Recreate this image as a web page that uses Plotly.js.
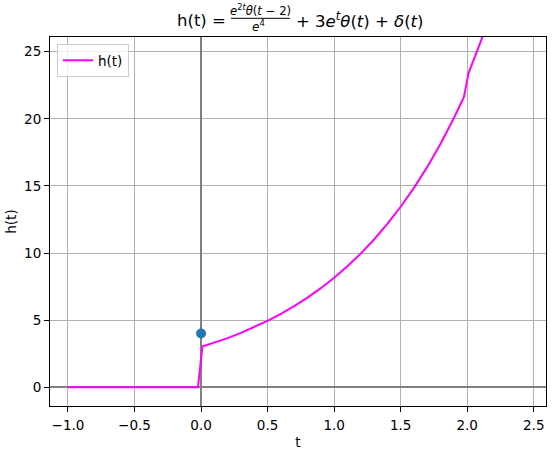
<!DOCTYPE html>
<html>
<head>
<meta charset="utf-8">
<script src="https://cdn.plot.ly/plotly-3.0.1.min.js"></script>
<style>html,body{margin:0;padding:0;background:#fff;}#chart{width:553px;height:450px;}</style>
</head>
<body>
<div id="chart"></div>
<script>
// h(t) curve, values
const tValues = [-1.0, -0.023, 0.01, 0.1, 0.2, 0.3, 0.4, 0.5, 0.6, 0.7, 0.8, 0.9, 1.0, 1.1, 1.2, 1.3, 1.4, 1.5, 1.6, 1.7, 1.8, 1.9, 1.975, 2.01, 2.1, 2.2];
const hValues = [0, 0, 3.03, 3.32, 3.66, 4.05, 4.48, 4.95, 5.47, 6.04, 6.68, 7.38, 8.16, 9.01, 9.96, 11.01, 12.17, 13.45, 14.86, 16.42, 18.15, 20.06, 21.62, 23.41, 25.71, 28.57];
// delta impulse marker
const deltaT = [0];
const deltaH = [4];
// ticks
const xTicks = [-1.0, -0.5, 0.0, 0.5, 1.0, 1.5, 2.0, 2.5];
const yTicks = [0, 5, 10, 15, 20, 25];

const FONT = 'DejaVu Sans, sans-serif';
const L = 50, R = 7, T = 37, B = 44, W = 553, H = 450;
const pw = W - L - R, ph = H - T - B;
const px = x => (x - L) / pw;
const py = y => (H - B - y) / ph;

const traces = [
  {x: tValues, y: hValues, type: 'scatter', mode: 'lines', name: 'h(t)',
   line: {color: '#ff00ff', width: 2}},
  {x: deltaT, y: deltaH, type: 'scatter', mode: 'markers', showlegend: false,
   marker: {color: '#1f77b4', size: 10}}
];

const axisCommon = {
  showline: true, mirror: true, linecolor: '#000', linewidth: 1,
  ticks: 'outside', ticklen: 5, tickcolor: '#000', tickwidth: 1,
  showgrid: true, gridcolor: '#b0b0b0', gridwidth: 1,
  zeroline: true, zerolinecolor: '#808080', zerolinewidth: 2,
  tickfont: {family: FONT, size: 13.5, color: '#000'}
};

const layout = {
  width: W, height: H,
  margin: {l: L, r: R, t: T, b: B},
  paper_bgcolor: '#fff', plot_bgcolor: '#fff',
  font: {family: FONT, color: '#000'},
  showlegend: true,
  legend: {x: px(57), y: py(44), xanchor: 'left', yanchor: 'top',
    bordercolor: '#cccccc', borderwidth: 1, bgcolor: 'rgba(255,255,255,0.8)',
    font: {family: FONT, size: 13.5, color: '#000'}},
  xaxis: Object.assign({}, axisCommon, {
    range: [-1.135, 2.592], tickmode: 'array', tickvals: xTicks,
    ticktext: xTicks.map(v => (v < 0 ? '\u2212' : '') + Math.abs(v).toFixed(1)),
    ticklabelstandoff: 2,
    title: {text: 't', font: {family: FONT, size: 13.5, color: '#000'}, standoff: 5},
    automargin: false
  }),
  yaxis: Object.assign({}, axisCommon, {
    range: [-1.40, 26.1], tickmode: 'array', tickvals: yTicks,
    title: {text: 'h(t)', font: {family: FONT, size: 13.5, color: '#000'}, standoff: 4},
    automargin: false
  }),
  shapes: [
    {type: 'line', xref: 'paper', yref: 'paper', x0: px(231), x1: px(290), y0: py(18.3), y1: py(18.3),
     line: {color: '#000', width: 1}}
  ],
  annotations: [
    {xref: 'paper', yref: 'paper', x: px(228), y: py(21), xanchor: 'right', yanchor: 'middle',
     text: 'h(t) =', showarrow: false, font: {family: FONT, size: 16.5, color: '#000'}},
    {xref: 'paper', yref: 'paper', x: px(260.5), y: py(10), xanchor: 'center', yanchor: 'middle',
     text: '<i>e</i><sup>2<i>t</i></sup><i>θ</i>(<i>t</i> − 2)', showarrow: false,
     font: {family: FONT, size: 11.7, color: '#000'}},
    {xref: 'paper', yref: 'paper', x: px(258), y: py(26.5), xanchor: 'center', yanchor: 'middle',
     text: '<i>e</i><sup>4</sup>', showarrow: false,
     font: {family: FONT, size: 12, color: '#000'}},
    {xref: 'paper', yref: 'paper', x: px(294), y: py(20), xanchor: 'left', yanchor: 'middle',
     text: '+ 3<i>e</i><sup><i>t</i></sup><i>θ</i>(<i>t</i>) + <i>δ</i>(<i>t</i>)', showarrow: false,
     font: {family: FONT, size: 16.5, color: '#000'}}
  ]
};

Plotly.newPlot('chart', traces, layout, {staticPlot: true, displayModeBar: false});
</script>
</body>
</html>
